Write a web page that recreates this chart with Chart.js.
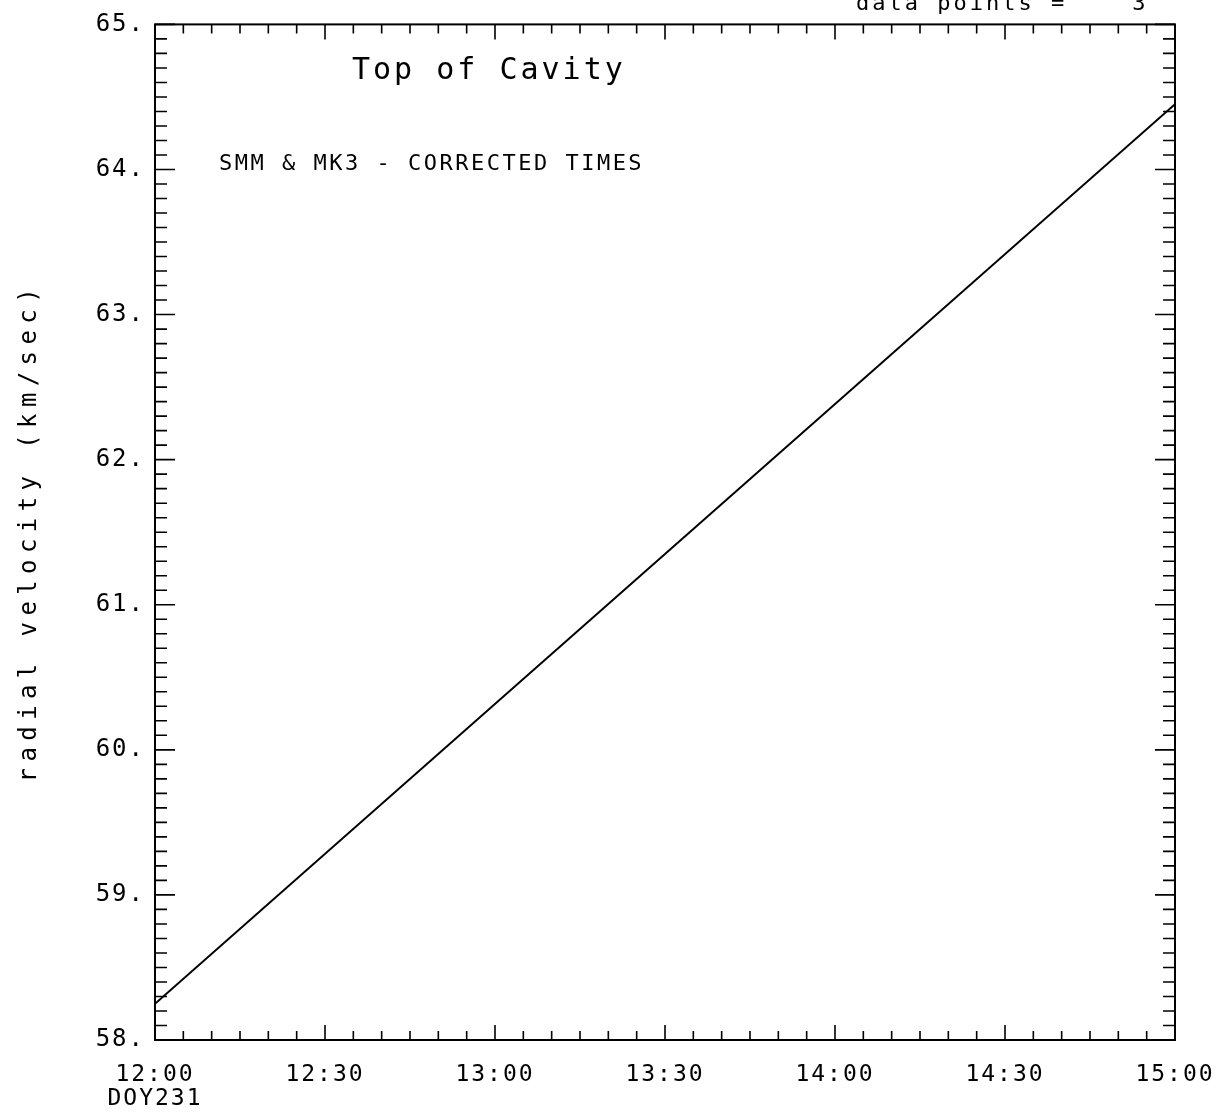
<!DOCTYPE html>
<html>
<head>
<meta charset="utf-8">
<script src="https://cdn.jsdelivr.net/npm/chart.js@4.4.1/dist/chart.umd.min.js"></script>
<style>
  html, body { margin: 0; padding: 0; background: #ffffff; }
  #wrap { width: 1217px; height: 1115px; }
</style>
</head>
<body>
<div id="wrap"><canvas id="my-chart" width="1217" height="1115"></canvas></div>
<script>
'use strict';

// observation times in minutes after midnight, DOY 231
let obsMinutes = [720, 810, 900];
let velocity = [58.25, 61.35, 64.45];

let xTickValues = [720, 750, 780, 810, 840, 870, 900];
let xTickLabels = [['12:00', 'DOY231'], '12:30', '13:00', '13:30', '14:00', '14:30', '15:00'];
let yTickLabels = ['58.', '59.', '60.', '61.', '62.', '63.', '64.', '65.'];

let yTitle = 'radial velocity (km/sec)';
let plotTitle = 'Top of Cavity';
let plotNote = 'SMM & MK3 - CORRECTED TIMES';
let headerText = 'data points =    3';

let canvasElem = document.getElementById('my-chart');
let monoFont = '"DejaVu Sans Mono", "Liberation Mono", monospace';

let plotterLook = {
  id: 'plotterLook',
  beforeUpdate(chart) {
    chart.ctx.letterSpacing = '2px';
  },
  beforeDraw(chart) {
    chart.ctx.letterSpacing = '2px';
  },
  afterDatasetsDraw(chart) {
    let ctx = chart.ctx;
    let area = chart.chartArea;
    let xs = chart.scales.x;
    let ys = chart.scales.y;

    ctx.save();
    ctx.strokeStyle = '#000';
    ctx.lineWidth = 2;
    ctx.strokeRect(area.left, area.top, area.right - area.left, area.bottom - area.top);

    // inward tick marks on all four sides
    ctx.lineWidth = 1.6;
    ctx.beginPath();
    xs.ticks.forEach(function (t) {
      let px = xs.getPixelForValue(t.value);
      let len = (Math.round(t.value) % 30 === 0) ? 15 : 9;
      ctx.moveTo(px, area.bottom);
      ctx.lineTo(px, area.bottom - len);
      ctx.moveTo(px, area.top);
      ctx.lineTo(px, area.top + len);
    });
    ys.ticks.forEach(function (t) {
      let py = ys.getPixelForValue(t.value);
      let len = (Math.abs(t.value - Math.round(t.value)) < 1e-6) ? 20 : 12;
      ctx.moveTo(area.left, py);
      ctx.lineTo(area.left + len, py);
      ctx.moveTo(area.right, py);
      ctx.lineTo(area.right - len, py);
    });
    ctx.stroke();

    // texts
    ctx.fillStyle = '#000';
    ctx.textAlign = 'left';
    ctx.textBaseline = 'alphabetic';
    ctx.letterSpacing = '3px';
    ctx.font = '30px ' + monoFont;
    ctx.fillText(plotTitle, area.left + 197, area.top + 55);

    ctx.letterSpacing = '2.5px';
    ctx.font = '22px ' + monoFont;
    ctx.fillText(plotNote, area.left + 64, area.top + 146);

    ctx.letterSpacing = '3px';
    ctx.fillText(headerText, 856, 10);

    ctx.translate(30, (area.top + area.bottom) / 2);
    ctx.rotate(-Math.PI / 2);
    ctx.textAlign = 'center';
    ctx.textBaseline = 'middle';
    ctx.letterSpacing = '6.4px';
    ctx.font = '24px ' + monoFont;
    ctx.fillText(yTitle, 0, 0);
    ctx.restore();
  }
};

let chartObj = {
  type: 'line',
  data: {
    datasets: [{
      label: 'radial velocity',
      data: obsMinutes.map(function (m, i) { return { x: m, y: velocity[i] }; }),
      borderColor: '#000',
      borderWidth: 2,
      pointRadius: 0,
      fill: false,
      tension: 0
    }]
  },
  options: {
    responsive: false,
    animation: false,
    layout: {
      padding: { left: 60, top: 8, right: 0, bottom: 0 }
    },
    plugins: {
      legend: { display: false },
      tooltip: { enabled: false }
    },
    scales: {
      x: {
        type: 'linear',
        min: 720,
        max: 900,
        grid: { display: false, drawTicks: false },
        border: { display: false },
        afterFit: function (scale) {
          scale.height = 75;
          scale.paddingRight = 42;
        },
        ticks: {
          stepSize: 5,
          autoSkip: false,
          maxRotation: 0,
          padding: 23,
          color: '#000',
          font: { family: monoFont, size: 23, lineHeight: 1.05 },
          callback: function (value) {
            let idx = xTickValues.indexOf(Math.round(value));
            return idx >= 0 ? xTickLabels[idx] : '';
          }
        }
      },
      y: {
        min: 58,
        max: 65,
        grid: { display: false, drawTicks: false },
        border: { display: false },
        afterFit: function (scale) { scale.width = 95; },
        ticks: {
          stepSize: 0.1,
          autoSkip: false,
          maxTicksLimit: 200,
          padding: 10,
          color: '#000',
          font: { family: monoFont, size: 24 },
          callback: function (value) {
            if (Math.abs(value - Math.round(value)) > 1e-6) {
              return '';
            }
            return yTickLabels[Math.round(value) - 58];
          }
        }
      }
    }
  },
  plugins: [plotterLook]
};

new Chart(canvasElem, chartObj); //eslint-disable-line
</script>
</body>
</html>
